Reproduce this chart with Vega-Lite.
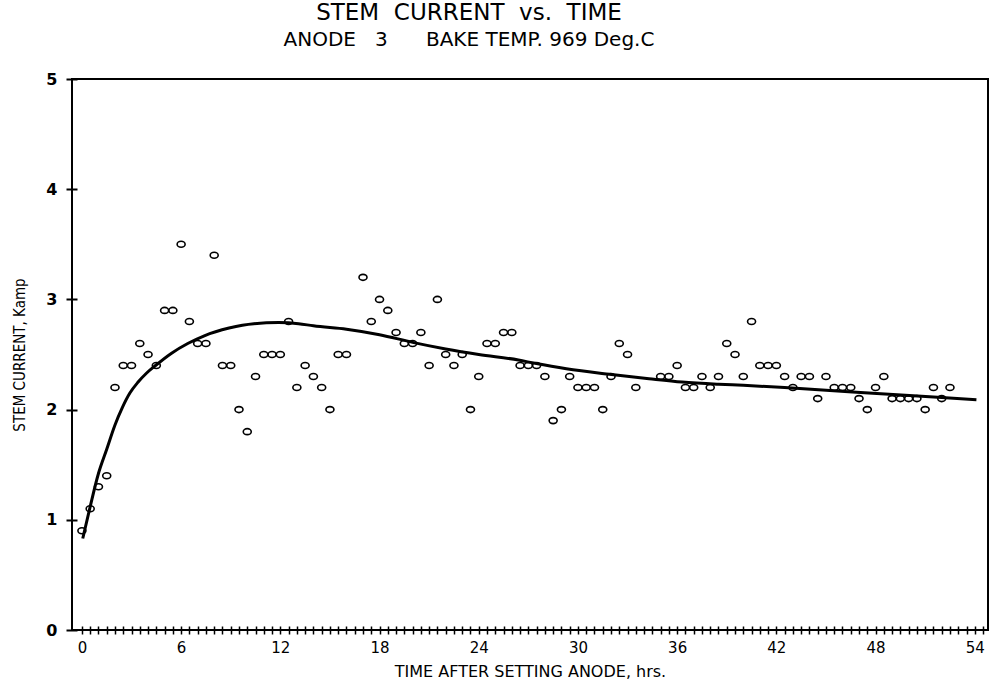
{
  "$schema": "https://vega.github.io/schema/vega-lite/v6.json",
  "width": 916,
  "height": 551,
  "autosize": {"type": "none"},
  "padding": {"left": 72, "top": 79, "right": 5, "bottom": 54},
  "background": "white",
  "config": {
    "view": {"stroke": "black", "strokeWidth": 2},
    "axis": {"grid": false, "domain": false, "tickColor": "black", "labelColor": "black", "titleColor": "black", "tickWidth": 1.5}
  },
  "title": {
    "text": "STEM\u00a0\u00a0CURRENT\u00a0\u00a0vs.\u00a0\u00a0TIME",
    "subtitle": "ANODE\u00a0\u00a0\u00a03\u00a0\u00a0\u00a0\u00a0\u00a0\u00a0BAKE TEMP. 969 Deg.C",
    "anchor": "middle",
    "frame": "group",
    "dx": -61,
    "offset": 21,
    "font": "DejaVu Sans",
    "fontSize": 23,
    "fontWeight": "normal",
    "color": "black",
    "subtitleFont": "DejaVu Sans",
    "subtitleFontSize": 20,
    "subtitleColor": "black",
    "subtitlePadding": 5
  },
  "datasets": {
    "obs": [
      {"t": 0, "v": 0.9}, {"t": 0.5, "v": 1.1}, {"t": 1, "v": 1.3}, {"t": 1.5, "v": 1.4},
      {"t": 2, "v": 2.2}, {"t": 2.5, "v": 2.4}, {"t": 3, "v": 2.4}, {"t": 3.5, "v": 2.6},
      {"t": 4, "v": 2.5}, {"t": 4.5, "v": 2.4}, {"t": 5, "v": 2.9}, {"t": 5.5, "v": 2.9},
      {"t": 6, "v": 3.5}, {"t": 6.5, "v": 2.8}, {"t": 7, "v": 2.6}, {"t": 7.5, "v": 2.6},
      {"t": 8, "v": 3.4}, {"t": 8.5, "v": 2.4}, {"t": 9, "v": 2.4}, {"t": 9.5, "v": 2.0},
      {"t": 10, "v": 1.8}, {"t": 10.5, "v": 2.3}, {"t": 11, "v": 2.5}, {"t": 11.5, "v": 2.5},
      {"t": 12, "v": 2.5}, {"t": 12.5, "v": 2.8}, {"t": 13, "v": 2.2}, {"t": 13.5, "v": 2.4},
      {"t": 14, "v": 2.3}, {"t": 14.5, "v": 2.2}, {"t": 15, "v": 2.0}, {"t": 15.5, "v": 2.5},
      {"t": 16, "v": 2.5}, {"t": 17, "v": 3.2}, {"t": 17.5, "v": 2.8}, {"t": 18, "v": 3.0},
      {"t": 18.5, "v": 2.9}, {"t": 19, "v": 2.7}, {"t": 19.5, "v": 2.6}, {"t": 20, "v": 2.6},
      {"t": 20.5, "v": 2.7}, {"t": 21, "v": 2.4}, {"t": 21.5, "v": 3.0}, {"t": 22, "v": 2.5},
      {"t": 22.5, "v": 2.4}, {"t": 23, "v": 2.5}, {"t": 23.5, "v": 2.0}, {"t": 24, "v": 2.3},
      {"t": 24.5, "v": 2.6}, {"t": 25, "v": 2.6}, {"t": 25.5, "v": 2.7}, {"t": 26, "v": 2.7},
      {"t": 26.5, "v": 2.4}, {"t": 27, "v": 2.4}, {"t": 27.5, "v": 2.4}, {"t": 28, "v": 2.3},
      {"t": 28.5, "v": 1.9}, {"t": 29, "v": 2.0}, {"t": 29.5, "v": 2.3}, {"t": 30, "v": 2.2},
      {"t": 30.5, "v": 2.2}, {"t": 31, "v": 2.2}, {"t": 31.5, "v": 2.0}, {"t": 32, "v": 2.3},
      {"t": 32.5, "v": 2.6}, {"t": 33, "v": 2.5}, {"t": 33.5, "v": 2.2}, {"t": 35, "v": 2.3},
      {"t": 35.5, "v": 2.3}, {"t": 36, "v": 2.4}, {"t": 36.5, "v": 2.2}, {"t": 37, "v": 2.2},
      {"t": 37.5, "v": 2.3}, {"t": 38, "v": 2.2}, {"t": 38.5, "v": 2.3}, {"t": 39, "v": 2.6},
      {"t": 39.5, "v": 2.5}, {"t": 40, "v": 2.3}, {"t": 40.5, "v": 2.8}, {"t": 41, "v": 2.4},
      {"t": 41.5, "v": 2.4}, {"t": 42, "v": 2.4}, {"t": 42.5, "v": 2.3}, {"t": 43, "v": 2.2},
      {"t": 43.5, "v": 2.3}, {"t": 44, "v": 2.3}, {"t": 44.5, "v": 2.1}, {"t": 45, "v": 2.3},
      {"t": 45.5, "v": 2.2}, {"t": 46, "v": 2.2}, {"t": 46.5, "v": 2.2}, {"t": 47, "v": 2.1},
      {"t": 47.5, "v": 2.0}, {"t": 48, "v": 2.2}, {"t": 48.5, "v": 2.3}, {"t": 49, "v": 2.1},
      {"t": 49.5, "v": 2.1}, {"t": 50, "v": 2.1}, {"t": 50.5, "v": 2.1}, {"t": 51, "v": 2.0},
      {"t": 51.5, "v": 2.2}, {"t": 52, "v": 2.1}, {"t": 52.5, "v": 2.2}
    ],
    "fit": [
      {"t": 0.05, "v": 0.83}, {"t": 0.5, "v": 1.12}, {"t": 1.0, "v": 1.42}, {"t": 1.5, "v": 1.64},
      {"t": 2.0, "v": 1.86}, {"t": 2.45, "v": 2.02}, {"t": 2.9, "v": 2.15}, {"t": 3.4, "v": 2.25},
      {"t": 3.9, "v": 2.33}, {"t": 4.45, "v": 2.40}, {"t": 5.4, "v": 2.51}, {"t": 6.4, "v": 2.6},
      {"t": 7.4, "v": 2.67}, {"t": 8.9, "v": 2.74}, {"t": 10.4, "v": 2.78}, {"t": 11.9, "v": 2.79},
      {"t": 13.1, "v": 2.78}, {"t": 14, "v": 2.76}, {"t": 16, "v": 2.73}, {"t": 18, "v": 2.68},
      {"t": 20, "v": 2.61}, {"t": 22, "v": 2.55}, {"t": 24, "v": 2.5}, {"t": 26.4, "v": 2.45},
      {"t": 27.4, "v": 2.42}, {"t": 29.3, "v": 2.37}, {"t": 31.9, "v": 2.32}, {"t": 34.3, "v": 2.28},
      {"t": 36.3, "v": 2.25}, {"t": 38.5, "v": 2.23}, {"t": 40, "v": 2.22}, {"t": 42.5, "v": 2.2},
      {"t": 46.6, "v": 2.16}, {"t": 49.8, "v": 2.13}, {"t": 52, "v": 2.11}, {"t": 54.1, "v": 2.09}
    ]
  },
  "encoding": {
    "x": {
      "field": "t", "type": "quantitative",
      "scale": {"domain": [-0.6, 54.8], "nice": false, "zero": false},
      "axis": {
        "title": "TIME AFTER SETTING ANODE, hrs.",
        "values": [0,0.5,1,1.5,2,2.5,3,3.5,4,4.5,5,5.5,6,6.5,7,7.5,8,8.5,9,9.5,10,10.5,11,11.5,12,12.5,13,13.5,14,14.5,15,15.5,16,16.5,17,17.5,18,18.5,19,19.5,20,20.5,21,21.5,22,22.5,23,23.5,24,24.5,25,25.5,26,26.5,27,27.5,28,28.5,29,29.5,30,30.5,31,31.5,32,32.5,33,33.5,34,34.5,35,35.5,36,36.5,37,37.5,38,38.5,39,39.5,40,40.5,41,41.5,42,42.5,43,43.5,44,44.5,45,45.5,46,46.5,47,47.5,48,48.5,49,49.5,50,50.5,51,51.5,52,52.5,53,53.5,54,54.5],
        "tickCount": 300,
        "labelExpr": "datum.value % 6 === 0 ? '' + datum.value : ''",
        "offset": -4,
        "tickSize": 8,
        "labelPadding": 6,
        "labelFont": "DejaVu Sans",
        "labelFontSize": 15,
        "labelFlush": false,
        "labelOverlap": false,
        "titleFont": "DejaVu Sans",
        "titleFontSize": 16,
        "titleFontWeight": "normal",
        "titlePadding": 8
      }
    },
    "y": {
      "field": "v", "type": "quantitative",
      "scale": {"domain": [0, 5], "nice": false},
      "axis": {
        "title": "STEM CURRENT, Kamp",
        "values": [0, 1, 2, 3, 4, 5],
        "format": "d",
        "offset": -5,
        "tickSize": 11,
        "tickWidth": 2,
        "labelPadding": 9,
        "labelFont": "DejaVu Sans",
        "labelFontSize": 16,
        "labelFontWeight": "bold",
        "labelFlush": false,
        "titleFont": "DejaVu Sans Condensed, Liberation Sans",
        "titleFontSize": 15,
        "titleFontWeight": "normal",
        "titlePadding": 18
      }
    }
  },
  "layer": [
    {
      "data": {"name": "fit"},
      "mark": {"type": "line", "color": "black", "strokeWidth": 3, "interpolate": "monotone"}
    },
    {
      "data": {"name": "obs"},
      "mark": {
        "type": "point",
        "shape": "M -1 0 C -1 -0.414 -0.552 -0.75 0 -0.75 C 0.552 -0.75 1 -0.414 1 0 C 1 0.414 0.552 0.75 0 0.75 C -0.552 0.75 -1 0.414 -1 0 Z",
        "size": 64,
        "filled": false,
        "color": "black",
        "strokeWidth": 1.6,
        "opacity": 1
      }
    }
  ]
}
